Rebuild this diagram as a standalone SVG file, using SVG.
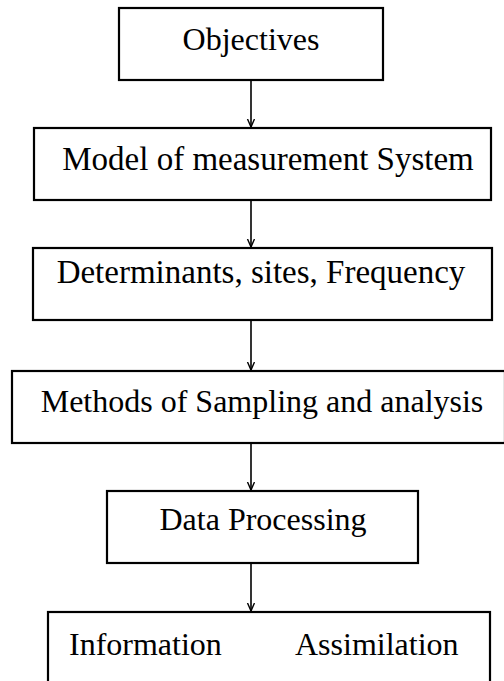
<svg xmlns="http://www.w3.org/2000/svg" width="504" height="681" viewBox="0 0 504 681">
  <style>
    .box { fill: #ffffff; stroke: #000000; stroke-width: 2.2; }
    .label { font-family: "Liberation Serif", "Times New Roman", serif; font-size: 32px; fill: #000000; text-anchor: middle; }
    .wide { font-size: 33px; }
    .link { stroke: #000000; stroke-width: 1.6; fill: none; marker-end: url(#arrow); }
  </style>
  <defs>
    <marker id="arrow" markerWidth="10" markerHeight="10" refX="8" refY="4" orient="auto" markerUnits="userSpaceOnUse">
      <path d="M0,0.5 L8,4 L0,7.5" fill="none" stroke="#000000" stroke-width="1.4"/>
    </marker>
  </defs>
  <rect width="504" height="681" fill="#ffffff"/>

  <!-- straight vertical links between consecutive steps -->
  <g id="connectors">
    <line class="link" x1="251" y1="80" x2="251" y2="127"/>
    <line class="link" x1="251" y1="200" x2="251" y2="247"/>
    <line class="link" x1="251" y1="320" x2="251" y2="370"/>
    <line class="link" x1="251" y1="443" x2="251" y2="490"/>
    <line class="link" x1="251" y1="563" x2="251" y2="611"/>
  </g>

  <g id="objectives">
    <rect class="box" x="119" y="8" width="264" height="72"/>
    <text class="label" x="251" y="50">Objectives</text>
  </g>

  <g id="model">
    <rect class="box" x="34" y="128" width="457" height="72"/>
    <text class="label wide" x="268" y="170">Model of measurement System</text>
  </g>

  <g id="determinants">
    <rect class="box" x="33" y="248" width="459" height="72"/>
    <text class="label wide" x="261" y="283">Determinants, sites, Frequency</text>
  </g>

  <g id="methods">
    <rect class="box" x="12" y="371" width="493" height="72"/>
    <text class="label" x="262" y="412">Methods of Sampling and analysis</text>
  </g>

  <g id="processing">
    <rect class="box" x="107" y="491" width="311" height="72"/>
    <text class="label" x="263" y="530">Data Processing</text>
  </g>

  <!-- bottom box runs past the lower edge of the page -->
  <g id="information">
    <rect class="box" x="48" y="612" width="442" height="72"/>
    <text class="label" style="text-anchor: start" y="655"><tspan x="69">Information</tspan><tspan x="295">Assimilation</tspan></text>
  </g>
</svg>
